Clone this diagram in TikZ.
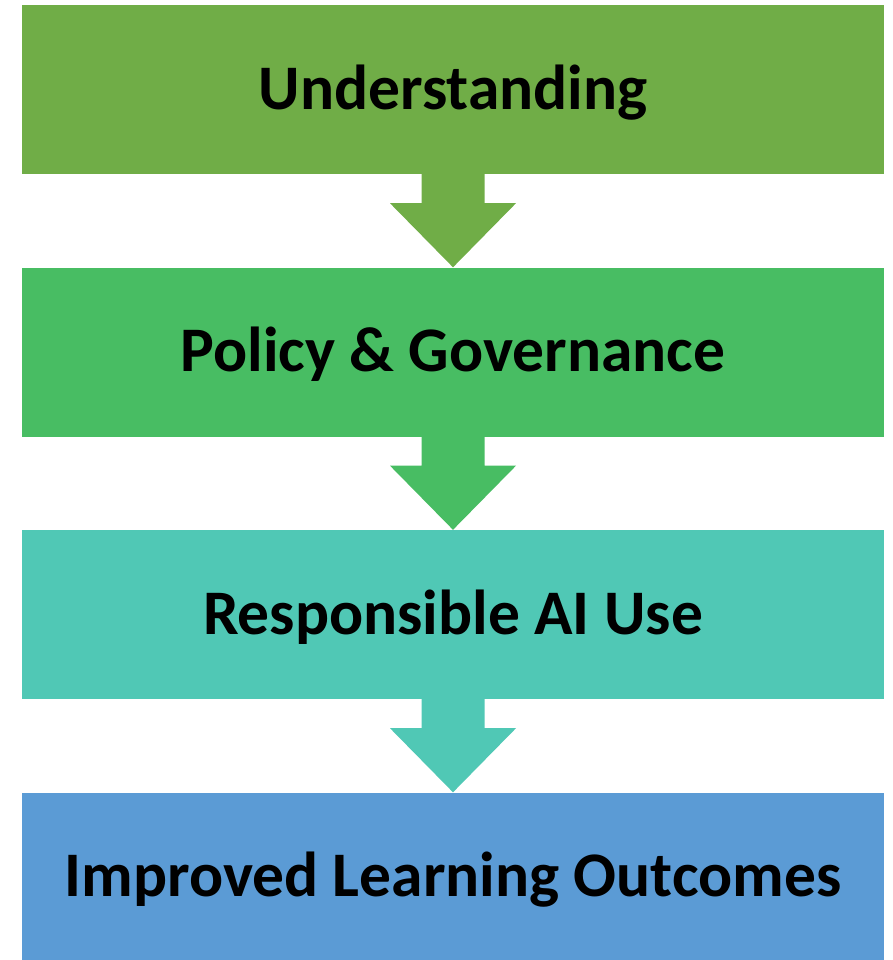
\documentclass[tikz,border=0pt]{standalone}
\usepackage{fontspec}
\setmainfont{Carlito}
\begin{document}
\begin{tikzpicture}[x=1pt,y=-1pt,
  stage/.style={draw=none,minimum width=862pt,minimum height=169pt,inner sep=0pt,
    text height=39.5pt,text depth=0pt,
    font=\fontsize{63.5}{70}\selectfont\bfseries,text=black}]
\definecolor{cA}{HTML}{70AD47}
\definecolor{cB}{HTML}{48BD63}
\definecolor{cC}{HTML}{50C8B5}
\definecolor{cD}{HTML}{5B9BD5}
\useasboundingbox (0,0) rectangle (892,960);
\node[stage,fill=cA] (s1) at (453,89.5) {Understanding};
\node[stage,fill=cB] (s2) at (453,352) {Policy \& Governance};
\node[stage,fill=cC] (s3) at (453,614.5) {Responsible AI Use};
\node[stage,fill=cD] (s4) at (453,877) {Improved Learning Outcomes};
\foreach \a/\b/\c in {s1/s2/cA,s2/s3/cB,s3/s4/cC}{
  \fill[\c] ([xshift=-31.5pt]\a.south) -- ([xshift=31.5pt]\a.south)
    -- ([xshift=31.5pt,yshift=-29pt]\a.south) -- ([xshift=63pt,yshift=-29pt]\a.south)
    -- (\b.north) -- ([xshift=-63pt,yshift=-29pt]\a.south)
    -- ([xshift=-31.5pt,yshift=-29pt]\a.south) -- cycle;
}
\end{tikzpicture}
\end{document}
